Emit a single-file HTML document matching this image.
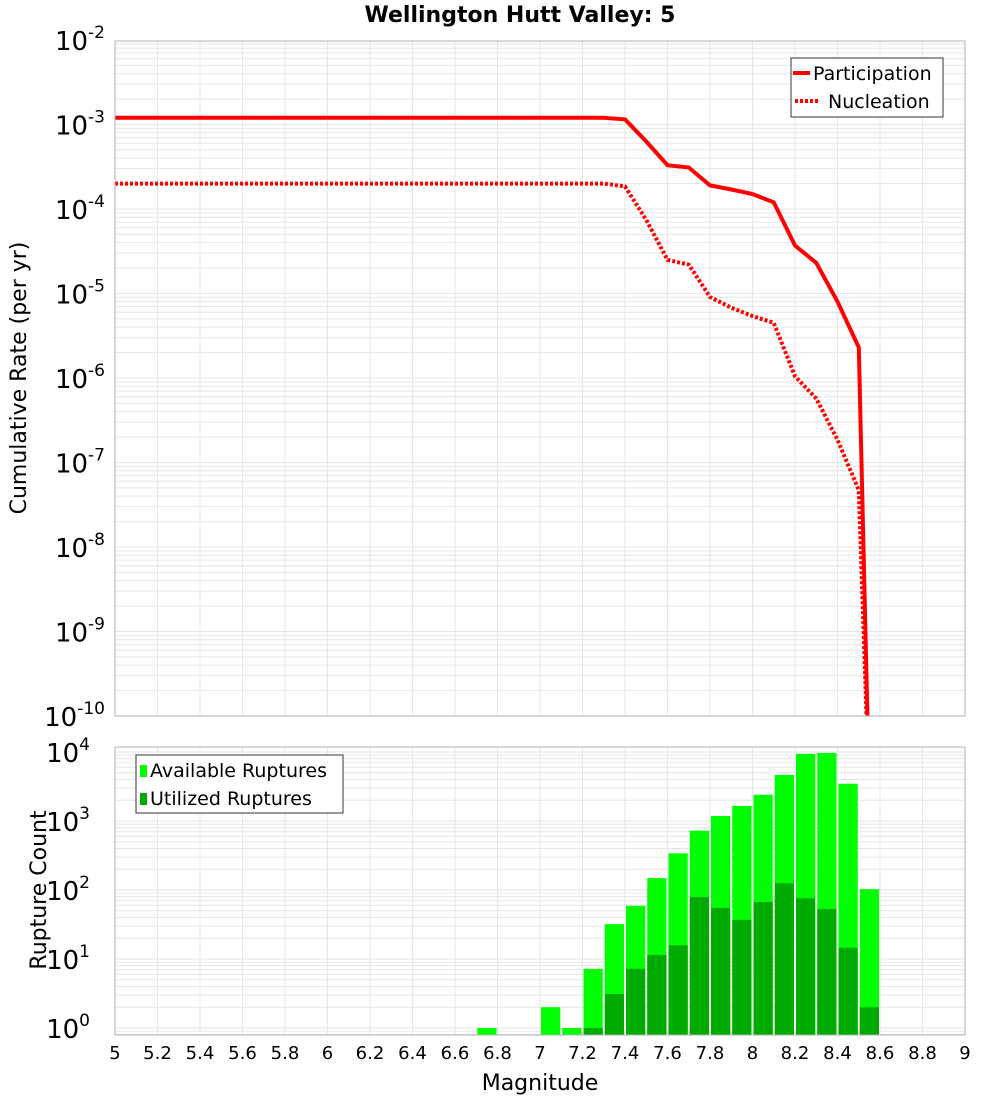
<!DOCTYPE html>
<html><head><meta charset="utf-8"><style>
body{margin:0;background:#fff;width:1000px;height:1100px;overflow:hidden;font-family:"Liberation Sans","DejaVu Sans",sans-serif}
svg text{font-family:"DejaVu Sans","Liberation Sans",sans-serif}
</style></head><body>
<svg id="c" width="1000" height="1100" xmlns="http://www.w3.org/2000/svg">
<text x="520" y="22" text-anchor="middle" font-size="22" font-weight="bold">Wellington Hutt Valley: 5</text>
<g id="top"></g>
<g id="bot"></g>
<text transform="translate(26,378) rotate(-90)" text-anchor="middle" font-size="22">Cumulative Rate (per yr)</text>
<text transform="translate(46,890) rotate(-90)" text-anchor="middle" font-size="22">Rupture Count</text>
<text x="540" y="1090" text-anchor="middle" font-size="22">Magnitude</text>
</svg>
<script>
const magPoints=[5,7.3,7.4,7.5,7.6,7.7,7.8,7.9,8.0,8.1,8.2,8.3,8.4,8.5,8.55];
const participation=[1.2e-3,1.2e-3,1.15e-3,6.3e-4,3.3e-4,3.1e-4,1.9e-4,1.7e-4,1.5e-4,1.2e-4,3.7e-5,2.3e-5,8e-6,2.3e-6,1e-11];
const nucleation=[2.0e-4,2.0e-4,1.85e-4,7.4e-5,2.5e-5,2.2e-5,9.1e-6,6.8e-6,5.4e-6,4.5e-6,1.05e-6,5.7e-7,1.85e-7,4.7e-8,1e-11];
const binCenters=[6.75,7.05,7.15,7.25,7.35,7.45,7.55,7.65,7.75,7.85,7.95,8.05,8.15,8.25,8.35,8.45,8.55];
const available=[1,2,1,7.2,32,59,149,340,724,1180,1650,2400,4650,9400,9700,3470,103];
const utilized=[0,0,0,1,3.1,7.2,11.4,15.8,79,55,37,67,125,76,53,14.6,2];
const xTicks=[5,5.2,5.4,5.6,5.8,6,6.2,6.4,6.6,6.8,7,7.2,7.4,7.6,7.8,8,8.2,8.4,8.6,8.8,9];
const topDecades=[-2,-3,-4,-5,-6,-7,-8,-9,-10];
const botDecades=[0,1,2,3,4];

const NS="http://www.w3.org/2000/svg";
const X0=115,X1=965;
const xs=m=>X0+(m-5)/4*(X1-X0);
const T0=41,T1=716;
const yT=v=>40+(-2-Math.log10(v))*84.5;
const B0=747,B1=1035;
const yB=v=>1028-Math.log10(v)*69;
function mk(tag,attrs,parent){const e=document.createElementNS(NS,tag);for(const k in attrs)e.setAttribute(k,attrs[k]);parent.appendChild(e);return e;}
const gTop=document.getElementById('top'),gBot=document.getElementById('bot');

function grid(g,y0,y1,decs,yf){
  for(const d of decs){for(let k=1;k<10;k++){const y=yf(k*Math.pow(10,d));if(y>y0&&y<y1){const l=mk('line',{x1:X0,x2:X1,y1:y,y2:y,stroke:'#e6e6e6','stroke-width':1},g);
  
  }}}
  for(const tk of xTicks){const x=xs(tk);const l=mk('line',{x1:x,x2:x,y1:y0,y2:y1,stroke:'#e6e6e6','stroke-width':1},g);
  
  }
}
grid(gTop,T0,T1,[-3,-4,-5,-6,-7,-8,-9,-10],yT);
grid(gBot,B0,B1,[-1,0,1,2,3,4],yB);

for(const d of topDecades){const y=yT(Math.pow(10,d));const el=mk('text',{x:105,y:y+10,'text-anchor':'end','font-size':26},gTop);


el.innerHTML='10<tspan dy="-12" font-size="17">'+d+'</tspan>';}
for(const d of botDecades){const y=yB(Math.pow(10,d));const el=mk('text',{x:90,y:y+10,'text-anchor':'end','font-size':26},gBot);


el.innerHTML='10<tspan dy="-12" font-size="17">'+d+'</tspan>';}
for(const v of xTicks){const el=mk('text',{x:xs(v),y:1059,'text-anchor':'middle','font-size':18},gBot);


el.textContent=String(v);}

const cp=mk('clipPath',{id:'tc'},gTop);mk('rect',{x:X0,y:T0,width:X1-X0,height:T1-T0},cp);
function line(vals,dash,name){const p=magPoints.map((m,i)=>xs(m).toFixed(1)+','+yT(vals[i]).toFixed(1)).join(' ');
const l=mk('polyline',{points:p,fill:'none',stroke:'#ff0000','stroke-width':4,'clip-path':'url(#tc)'},gTop);
if(dash)l.setAttribute('stroke-dasharray','3,2');

}
line(participation,false,'participation-line');
line(nucleation,true,'nucleation-line');
const tb=mk('rect',{x:X0,y:T0,width:X1-X0,height:T1-T0,fill:'none',stroke:'#b0b0b0'},gTop);



const bw=(xs(5.1)-xs(5))-2;
binCenters.forEach((c,i)=>{
  const x=xs(c)-bw/2;
  if(available[i]>0){const y=Math.max(yB(available[i]),B0);const r=mk('rect',{x:x,y:y,width:bw,height:B1-y,fill:'#00ff00'},gBot);
  
  }
  if(utilized[i]>0){const y=Math.max(yB(utilized[i]),B0);const r=mk('rect',{x:x,y:y,width:bw,height:B1-y,fill:'#00aa00'},gBot);
  
  }
});
const bb=mk('rect',{x:X0,y:B0,width:X1-X0,height:B1-B0,fill:'none',stroke:'#b0b0b0'},gBot);



const lg=mk('g',{},gTop);


mk('rect',{x:791,y:58,width:152,height:59,fill:'#fff',stroke:'#333'},lg);
mk('line',{x1:793,x2:810,y1:73,y2:73,stroke:'#f00','stroke-width':4},lg);
mk('line',{x1:795,x2:820,y1:101,y2:101,stroke:'#f00','stroke-width':4,'stroke-dasharray':'3,2'},lg);
let tx=mk('text',{x:813,y:80,'font-size':19},lg);tx.textContent='Participation';
tx=mk('text',{x:828,y:108,'font-size':19},lg);tx.textContent='Nucleation';

const lb=mk('g',{},gBot);


mk('rect',{x:136,y:755,width:207,height:58,fill:'#fff',stroke:'#333'},lb);
mk('rect',{x:140,y:765,width:7,height:12,fill:'#00ff00'},lb);
mk('rect',{x:140,y:793,width:7,height:12,fill:'#00aa00'},lb);
tx=mk('text',{x:150,y:777,'font-size':19},lb);tx.textContent='Available Ruptures';
tx=mk('text',{x:150,y:805,'font-size':19},lb);tx.textContent='Utilized Ruptures';
</script>
</body></html>
